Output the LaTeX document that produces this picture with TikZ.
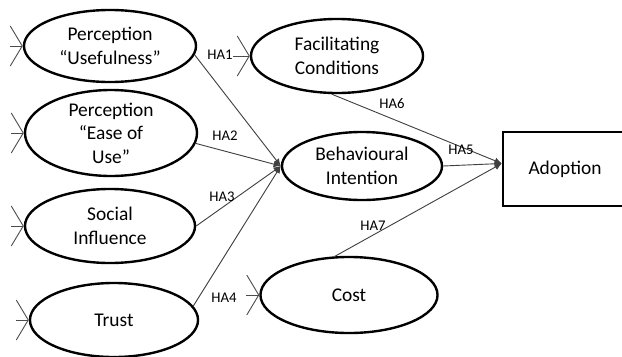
\documentclass[tikz,border=0pt]{standalone}
\usepackage{fontspec}
\setmainfont{Carlito}
\usetikzlibrary{shapes.geometric}
\usetikzlibrary{arrows.meta}

\tikzset{
  construct/.style={ellipse,draw=black,line width=1.7pt,inner sep=0pt,align=center,font=\fontsize{13.8}{16.8}\selectfont},
  outcome/.style={rectangle,draw=black,line width=1.7pt,inner sep=0pt,font=\fontsize{13.8}{16.8}\selectfont},
  link/.style={draw=black!75,line width=0.65pt,-{Latex[length=1.8mm,width=1.6mm]}},
  stub/.style={draw=black!70,line width=0.65pt,-{Straight Barb[length=3mm,width=10mm]}},
  hyp/.style={font=\fontsize{10.5}{12}\selectfont,inner sep=0pt}
}

\begin{document}
\begin{tikzpicture}[x=0.025cm,y=-0.025cm]
\useasboundingbox (0,0) rectangle (622,356);
\node[construct,minimum width=4.3cm,minimum height=1.8cm] (pu) at (110,46) {Perception\\“Usefulness”};
\node[construct,minimum width=4.3cm,minimum height=1.825cm] (peu) at (111,133) {Perception\\“Ease of\\Use”};
\node[construct,minimum width=4.25cm,minimum height=1.85cm] (si) at (110,226) {Social\\Influence};
\node[construct,minimum width=4.2cm,minimum height=1.85cm] (tr) at (114,320) {Trust};
\node[construct,minimum width=4.3cm,minimum height=1.85cm] (fc) at (337,56) {Facilitating\\Conditions};
\node[construct,minimum width=4cm,minimum height=1.7cm] (bi) at (362,166) {Behavioural\\Intention};
\node[construct,minimum width=4.425cm,minimum height=1.9cm] (co) at (349,295) {Cost};
\node[outcome,minimum width=3.1cm,minimum height=1.85cm] (ad) at (565,169) {Adoption};

\foreach \n/\d in {pu/13,peu/13,si/13,tr/13,fc/17,co/13}{
  \path (\n.west) ++(-\d,0) coordinate (\n-in);
  \draw[stub] (\n-in) -- (\n.west);
}

\draw[link] (pu.-6) -- (bi.west);
\draw[link] (peu.-7) -- (bi.west);
\draw[link] (si.east) -- (bi.west);
\draw[link] (tr.10) -- (bi.west);
\draw[link] (fc.-98) -- (ad.175);
\draw[link] (bi.east) -- (ad.175);
\draw[link] (co.110) -- (ad.175);

\node[hyp] (ha1) at (220,55) {HA1};
\node[hyp] (ha2) at (225,136) {HA2};
\node[hyp] (ha3) at (222,197) {HA3};
\node[hyp] (ha4) at (224,298) {HA4};
\node[hyp] (ha5) at (461,150) {HA5};
\node[hyp] (ha6) at (392,104) {HA6};
\node[hyp] (ha7) at (373,226) {HA7};
\end{tikzpicture}
\end{document}
